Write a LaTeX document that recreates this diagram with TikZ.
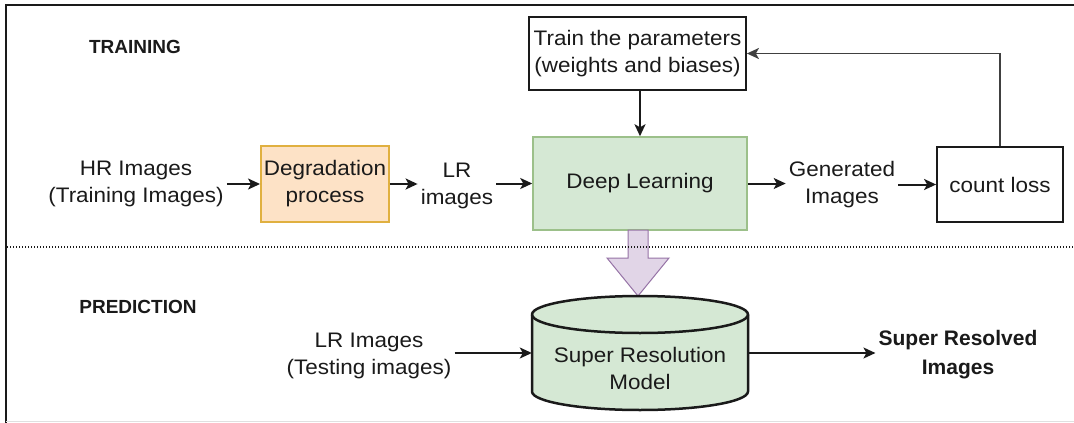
\documentclass[tikz,border=0pt]{standalone}
\usepackage{fontspec}
\setmainfont{Liberation Sans}[FakeStretch=1.07]
\newfontfamily\hdfont{Liberation Sans}
\usetikzlibrary{arrows.meta}
\definecolor{orfill}{HTML}{FDE2C6}
\definecolor{orstroke}{HTML}{E0B040}
\definecolor{grfill}{HTML}{D5E8D4}
\definecolor{grstroke}{HTML}{9CC08A}
\definecolor{pufill}{HTML}{E1D5E7}
\definecolor{pustroke}{HTML}{9673A6}
\definecolor{ink}{HTML}{1A1A1A}
\tikzset{
  txt/.style={align=center, inner sep=3pt, text=ink, font=\fontsize{21}{27}\selectfont},
  boxnode/.style={txt, draw=ink, line width=1.8pt},
  lbl/.style={inner sep=0pt, text=ink, font=\hdfont\bfseries\fontsize{19}{23}\selectfont},
  arr/.style={-{Stealth[length=12pt,width=11pt,inset=3pt]}, line width=2pt, draw=ink},
  thinarr/.style={-{Stealth[length=12pt,width=11pt,inset=3pt]}, line width=1.6pt, draw=ink}
}
\begin{document}
\begin{tikzpicture}[x=1pt,y=1pt]
\useasboundingbox (0,0) rectangle (1074,-423);
\fill[white] (0,0) rectangle (1074,-423);
% frame
\draw[line width=2pt, ink] (6,-423) -- (6,-5) -- (1074,-5);
\draw[line width=1pt, black!12] (6,-421) -- (1074,-421);

% section labels
\node[lbl] (training) at (135,-47) {TRAINING};
\node[lbl] (prediction) at (138,-307) {PREDICTION};

% training row
\node[boxnode, minimum width=217, minimum height=73] (train) at (637.5,-53.5) {Train the parameters\\(weights and biases)};
\node[txt] (hr) at (136,-184) {HR Images\\(Training Images)};
\node[boxnode, draw=orstroke, fill=orfill, line width=1.5pt, minimum width=128, minimum height=76] (degr) at (325,-184) {Degradation\\process};
\node[txt] (lr) at (457,-186) {LR\\images};
\node[boxnode, draw=grstroke, fill=grfill, line width=1.5pt, minimum width=214, minimum height=93] (dl) at (640,-183.5) {Deep Learning};
\node[txt] (gen) at (842,-185) {Generated\\Images};
\node[boxnode, minimum width=126, minimum height=75] (loss) at (1000,-184.5) {count loss};

\draw[arr] (hr.east) -- (degr.west);
\draw[arr] (degr.east) -- (degr.east -| lr.west);
\draw[arr] (lr.east |- dl.west) -- (dl.west);
\draw[arr] (dl.east) -- (dl.east -| gen.west);
\draw[arr] (gen.east |- loss.west) -- (loss.west);
\draw[arr] (train.south -| dl.north) -- (dl.north);
\draw[thinarr, draw=black!75] (loss.north) |- (train.east);

% big hollow arrow
\draw[line width=1pt, draw=pustroke, fill=pufill]
  (628,-230) -- (628,-258) -- (607,-258) -- (638,-296) -- (669,-258) -- (648,-258) -- (648,-230) -- cycle;

% separator
\draw[line width=1.2pt, ink, dash pattern=on 1.2pt off 1.8pt] (7,-247) -- (1074,-247);

% prediction row
\node[txt] (lrt) at (369,-356) {LR Images\\(Testing images)};
\node[minimum width=216, minimum height=114, inner sep=0pt] (cyl) at (640,-353) {};
\draw[line width=2.5pt, ink, fill=grfill]
  (532,-314.5) -- (532,-391.5) arc[start angle=180, end angle=360, x radius=108, y radius=18.5]
  -- (748,-314.5) arc[start angle=0, end angle=180, x radius=108, y radius=18.5] -- cycle;
\draw[line width=2.5pt, ink] (532,-314.5) arc[start angle=180, end angle=360, x radius=108, y radius=18.5];
\node[txt] (cyltext) at (640,-368) {Super Resolution\\Model};
\node[txt, font=\hdfont\bfseries\fontsize{21}{29}\selectfont] (sr) at (958,-355) {Super Resolved\\Images};

\draw[thinarr] (lrt.east |- cyl.west) -- (cyl.west);
\draw[thinarr] (cyl.east) -- (cyl.east -| sr.west);
\end{tikzpicture}
\end{document}
